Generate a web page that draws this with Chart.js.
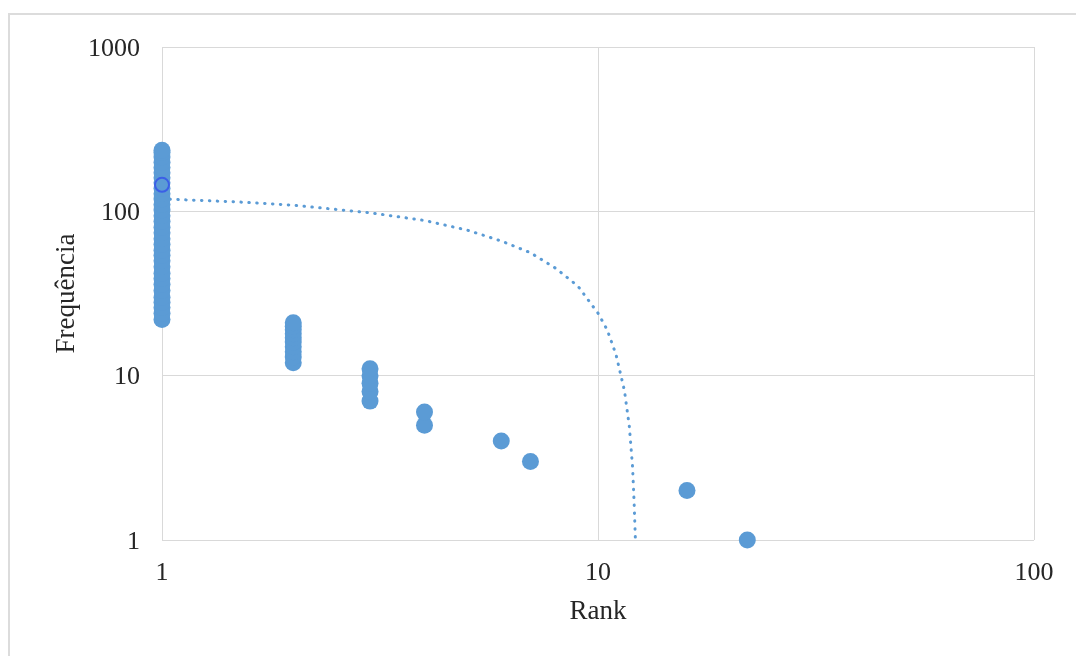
<!DOCTYPE html>
<html>
<head>
<meta charset="utf-8">
<script src="https://cdn.jsdelivr.net/npm/chart.js@4/dist/chart.umd.min.js"></script>
<style>
  html, body { margin: 0; padding: 0; background: #ffffff; }
  body { width: 1076px; height: 656px; position: relative; overflow: hidden; }
  #frame { position: absolute; left: 8px; top: 13px; right: -2px; bottom: -2px;
           border-left: 2px solid #dcdcdc; border-top: 2px solid #dcdcdc; }
  #wrap { position: absolute; left: 0; top: 0; width: 1076px; height: 656px; }
</style>
</head>
<body>
<div id="frame"></div>
<div id="wrap"><canvas id="chart" width="1076" height="656"></canvas></div>
<script>
// Rank positions and the word frequencies observed at each rank
const ranks = [1, 2, 3, 4, 6, 7, 16, 22];
const frequencies = [
  [22, 24, 26, 28, 30, 33, 36, 39, 42, 46, 50, 54, 58, 63, 68, 74, 80, 87, 94,
   102, 110, 119, 128, 138, 149, 160, 172, 185, 199, 214, 228, 235],
  [12, 13, 14, 15, 16, 17, 18, 19, 20, 21],
  [7, 8, 9, 10, 11],
  [5, 6],
  [4],
  [3],
  [2],
  [1]
];

// Highlighted point
const markedRank = [1];
const markedFreq = [145];

// Linear trend line, read along its length
const trendRank = [1, 1.5, 2, 3, 4, 5, 6, 7, 8, 9, 10, 10.5, 11, 11.5, 11.8, 12.0, 12.1, 12.18];
const trendFreq = [119, 114, 109, 98, 88, 77, 66, 56, 45, 35, 24, 19, 13.4, 8.1, 4.9, 2.8, 1.7, 1.03];

// Axis ticks
const xTicks = [1, 10, 100];
const yTicks = [1, 10, 100, 1000];

const blue = '#5B9BD5';
const textColor = '#262626';
const gridColor = '#d9d9d9';
const serif = "'Liberation Serif', 'Times New Roman', serif";

const scatterPoints = [];
ranks.forEach((r, i) => frequencies[i].forEach(f => scatterPoints.push({ x: r, y: f })));

new Chart(document.getElementById('chart'), {
  type: 'scatter',
  data: {
    datasets: [
      {
        label: 'Frequência',
        data: scatterPoints,
        backgroundColor: blue,
        borderWidth: 0,
        pointRadius: 8.5,
        clip: false,
        order: 1
      },
      {
        label: 'Marcado',
        data: markedRank.map((r, i) => ({ x: r, y: markedFreq[i] })),
        backgroundColor: blue,
        borderColor: '#3b5fe6',
        borderWidth: 2,
        pointRadius: 7,
        clip: false,
        order: 0
      },
      {
        label: 'Linear',
        data: trendRank.map((r, i) => ({ x: r, y: trendFreq[i] })),
        showLine: true,
        pointRadius: 0,
        borderColor: blue,
        borderWidth: 3,
        borderDash: [0.5, 7.4],
        borderCapStyle: 'round',
        fill: false,
        order: 2
      }
    ]
  },
  options: {
    responsive: false,
    animation: false,
    events: [],
    layout: { padding: { left: 0, top: 47, right: 42, bottom: 0 } },
    plugins: { legend: { display: false }, tooltip: { enabled: false } },
    scales: {
      x: {
        type: 'logarithmic',
        min: 1,
        max: 100,
        afterBuildTicks: s => { s.ticks = xTicks.map(v => ({ value: v })); },
        afterFit: s => { s.height = 116; },
        grid: { color: gridColor, lineWidth: 1, drawTicks: false },
        border: { display: false },
        ticks: {
          padding: 18,
          color: textColor,
          font: { family: serif, size: 26 },
          callback: v => String(v),
          maxRotation: 0
        },
        title: {
          display: true,
          text: 'Rank',
          color: textColor,
          font: { family: serif, size: 27 },
          padding: { top: 0, bottom: 28 }
        }
      },
      y: {
        type: 'logarithmic',
        min: 1,
        max: 1000,
        afterBuildTicks: s => { s.ticks = yTicks.map(v => ({ value: v })); },
        afterFit: s => { s.width = 162; },
        grid: { color: gridColor, lineWidth: 1, drawTicks: false },
        border: { display: false },
        ticks: {
          padding: 22,
          labelOffset: 2,
          color: textColor,
          font: { family: serif, size: 26 },
          callback: v => String(v)
        },
        title: {
          display: true,
          text: 'Frequência',
          color: textColor,
          font: { family: serif, size: 27 },
          padding: { top: 51, bottom: 0 }
        }
      }
    }
  }
});
</script>
</body>
</html>
